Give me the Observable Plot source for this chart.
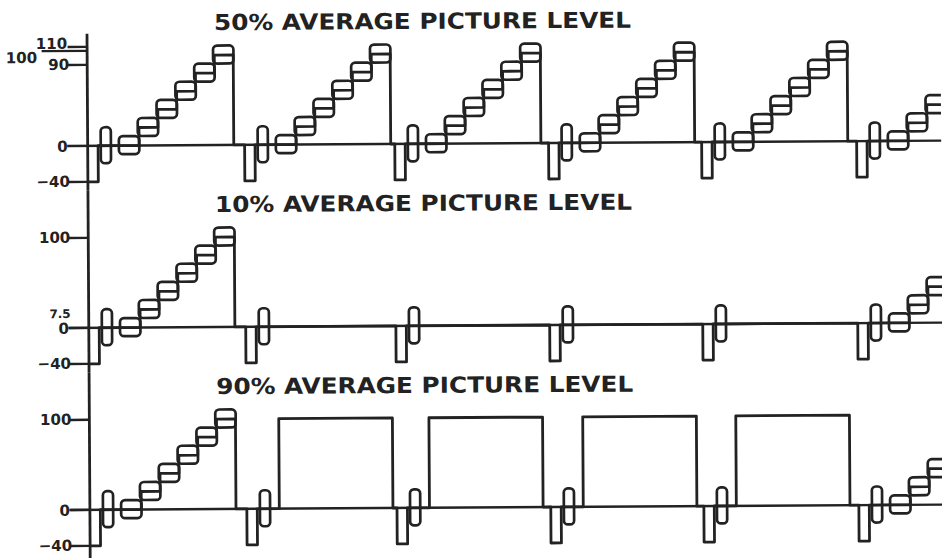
<!DOCTYPE html>
<html>
<head>
<meta charset="utf-8">
<script src="https://cdn.jsdelivr.net/npm/d3@7"></script>
<script src="https://cdn.jsdelivr.net/npm/@observablehq/plot@0.6"></script>
<style>
  html, body { margin: 0; padding: 0; background: #fff; overflow: hidden; }
  #chart svg { display: block; overflow: hidden; transform: rotate(-0.35deg); transform-origin: 50% 50%; }
</style>
</head>
<body>
<div id="chart"></div>
<script>
// ---- Data ----
const panels = ["50%", "10%", "90%"];
const panelTitles = ["50% AVERAGE PICTURE LEVEL", "10% AVERAGE PICTURE LEVEL", "90% AVERAGE PICTURE LEVEL"];

// leading edge of each line's sync pulse (µs from the axis)
const lineStarts = [0, 64.8, 126.8, 190.3, 253.5, 317.5];
// what the active part of each line carries, per panel
const lines50 = ["staircase", "staircase", "staircase", "staircase", "staircase", "staircase"];
const lines10 = ["staircase", "black", "black", "black", "black", "staircase"];
const lines90 = ["staircase", "white", "white", "white", "white", "staircase"];

// levels (IRE)
const stepLevels = [0, 20, 40, 60, 80, 100];
const syncLevel = -40;
const blankLevel = 0;
const whiteLevel = 100;
const chromaAmplitude = 10;   // staircase subcarrier envelope: ±10
const burstAmplitude = 20;    // colour burst: ±20

// line timing (µs from the sync leading edge)
const syncWidth = 4.3;
const burstStart = 5.6;
const burstEnd = 9.8;
const activeStart = 13.4;
const stepWidth = 7.82;

// axis ticks and labels
const tickPanels = ["50%", "50%", "50%", "10%", "10%", "10%", "90%", "90%", "90%"];
const tickValues = [110, 90, -40, 100, 0, -40, 100, 0, -40];
const labelPanels = ["50%", "50%", "50%", "50%", "10%", "10%", "10%", "90%", "90%", "90%"];
const labelValues = [110, 90, 0, -40, 100, 0, -40, 100, 0, -40];
const labelTexts = ["110", "90", "0", "\u221240", "100", "0", "\u221240", "100", "0", "\u221240"];
const noteTexts = ["100", "7.5"];
const noteValues = [100, 7.5];
const notePanels = ["50%", "10%"];

// ---- Layout ----
const W = 942, H = 558, ML = 88;
const xMax = 352.6;
const pxPerUnit = (W - ML) / xMax;
const px = (p) => p / pxPerUnit;
const ink = "#222222";

// ---- Build tables for the marks ----
const patterns = {"50%": lines50, "10%": lines10, "90%": lines90};
const events = [];
const boxes = [];
for (const panel of panels) {
  const pat = patterns[panel];
  lineStarts.forEach((s, j) => {
    events.push({panel, t: s, v: syncLevel});
    events.push({panel, t: s + syncWidth, v: blankLevel});
    boxes.push({panel, x1: s + burstStart, x2: s + burstEnd, y1: -burstAmplitude, y2: burstAmplitude});
    const a = s + activeStart;
    const end = a + stepLevels.length * stepWidth;
    if (pat[j] === "staircase") {
      stepLevels.forEach((lv, i) => {
        events.push({panel, t: a + i * stepWidth, v: lv});
        boxes.push({panel, x1: a + i * stepWidth - 0.3, x2: a + (i + 1) * stepWidth + 0.3,
                    y1: lv - chromaAmplitude, y2: lv + chromaAmplitude});
      });
      events.push({panel, t: end, v: blankLevel});
    } else if (pat[j] === "white") {
      events.push({panel, t: a, v: whiteLevel});
      events.push({panel, t: end, v: blankLevel});
    }
  });
}
const ticks = tickValues.map((v, i) => ({panel: tickPanels[i], v}));
const labels = labelValues.map((v, i) => ({panel: labelPanels[i], v, text: labelTexts[i]}));
const notes = noteTexts.map((t, i) => ({panel: notePanels[i], v: noteValues[i], text: t}));
const titles = panels.map((p, i) => ({panel: p, text: panelTitles[i]}));

const axisTop = {"50%": 124, "10%": 152.2, "90%": 152.2};
const axisBottom = {"50%": -50, "10%": -50, "90%": -60};

const labelStyle = {fy: "panel", y: "v", text: "text", frameAnchor: "left", textAnchor: "end",
  fontWeight: "bold", fill: ink, fontSize: 15};

const chart = Plot.plot({
  width: W,
  height: H,
  marginLeft: ML,
  marginRight: 0,
  marginTop: 5.5,
  marginBottom: 6.5,
  facet: {marginTop: 0, marginBottom: 0, marginLeft: 0, marginRight: 0},
  x: {domain: [0, xMax], axis: null},
  y: {domain: [-50, 152.2], axis: null},
  fy: {domain: panels, axis: null, padding: 0},
  style: {background: "#fff", fontFamily: "'DejaVu Sans', sans-serif", color: ink},
  marks: [
    // blanking reference line at 0 (runs the full width)
    Plot.ruleY(panels, {fy: Plot.identity, y: 0, x1: -px(20), x2: xMax + 5, stroke: ink, strokeWidth: 2.4}),
    // vertical axis
    Plot.ruleX(panels, {fy: Plot.identity, x: 0, y1: d => axisTop[d], y2: d => axisBottom[d], stroke: ink, strokeWidth: 2.8}),
    // ticks
    Plot.ruleY(ticks, {fy: "panel", y: "v", x1: -px(19), x2: 0, stroke: ink, strokeWidth: 2.4}),
    // fraction bar under "110"
    Plot.ruleY(["50%"], {fy: Plot.identity, y: 105.5, x1: -px(45), x2: 0, stroke: ink, strokeWidth: 2.2}),
    // waveform
    Plot.line(events, {fy: "panel", x: "t", y: "v", curve: "step-after", stroke: ink, strokeWidth: 2.8, strokeLinejoin: "round"}),
    // subcarrier envelopes (staircase steps and burst)
    Plot.rect(boxes, {fy: "panel", x1: "x1", x2: "x2", y1: "y1", y2: "y2", rx: 4, fill: "none", stroke: ink, strokeWidth: 2.7}),
    // titles
    Plot.text(titles, {fy: "panel", text: "text", frameAnchor: "top-left", dx: 127, dy: 15,
      textAnchor: "start", lineAnchor: "middle", fontSize: 22, fontWeight: "bold", fill: ink}),
    // tick labels
    Plot.text(labels.filter(d => d.v === 110), {...labelStyle, dx: -20, dy: -3}),
    Plot.text(labels.filter(d => d.v === 0), {...labelStyle, dx: -20, dy: 1}),
    Plot.text(labels.filter(d => d.v !== 0 && d.v !== 110), {...labelStyle, dx: -18, dy: 0}),
    Plot.text(notes.filter(d => d.text === "100"), {...labelStyle, dx: -50, dy: 2}),
    Plot.text(notes.filter(d => d.text === "7.5"), {...labelStyle, dx: -18, dy: -7, fontSize: 12})
  ]
});

document.getElementById("chart").append(chart);
chart.querySelectorAll("text").forEach(t => {
  if (t.textContent.includes("AVERAGE")) {
    t.setAttribute("textLength", 417);
    t.setAttribute("lengthAdjust", "spacingAndGlyphs");
  }
});
</script>
</body>
</html>
